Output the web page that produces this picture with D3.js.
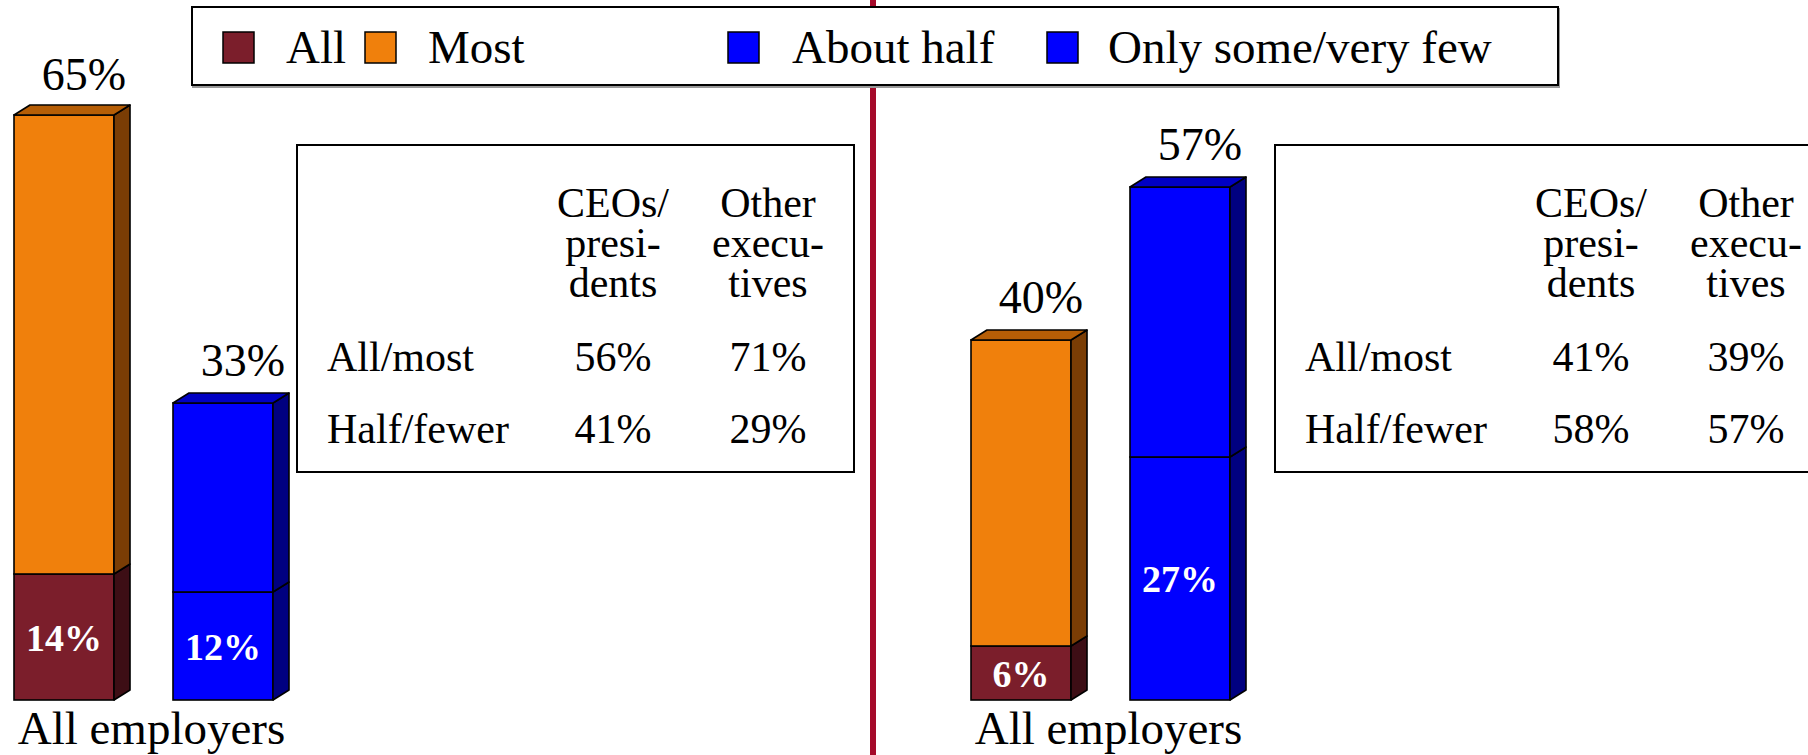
<!DOCTYPE html>
<html>
<head>
<meta charset="utf-8">
<script src="https://cdn.jsdelivr.net/npm/d3@7"></script>
<style>
  body { margin: 0; background: #fff; }
  svg { display: block; }
  text { font-family: "Liberation Serif", "Times New Roman", serif; }
</style>
</head>
<body>
<div id="chart"></div>
<script>
// legend / series
const seriesNames = ["All", "Most", "About half", "Only some/very few"];
const barKeys = ["allMost", "halfFewer"];
const categoryLabel = "All employers";

// left panel: bottom segment (All / About half), top segment (Most / Only some)
const leftBottom = [14, 12];
const leftTop = [51, 21];
// right panel
const rightBottom = [6, 27];
const rightTop = [34, 30];

// small tables
const tableRows = ["All/most", "Half/fewer"];
const tableCols = [["CEOs/", "presi-", "dents"], ["Other", "execu-", "tives"]];
const leftTable = [[56, 71], [41, 29]];
const rightTable = [[41, 39], [58, 57]];

// styles
const front = ["#7b1e2b", "#f0800c", "#0000ff", "#0000ff"];
const side = ["#3d0e15", "#7a3d05", "#000080", "#000080"];
const topFace = ["#5a1520", "#b65e06", "#0000c4", "#0000c4"];

const width = 1808;
const height = 755;
const depthX = 16, depthY = 10;

const svg = d3.select("#chart")
    .append("svg")
    .attr("width", width)
    .attr("height", height);

const y = d3.scaleLinear()
    .domain([0, 65])
    .range([700, 115]);

// divider line
svg.append("rect")
    .attr("x", 870).attr("y", 0)
    .attr("width", 6).attr("height", height)
    .attr("fill", "#a50a2a");

function drawPanel(bottomVals, topVals, xRange, tableX, tableVals) {
    const x = d3.scaleBand()
        .domain(barKeys)
        .range(xRange)
        .paddingInner(0.371)
        .paddingOuter(0);
    const bw = x.bandwidth();
    const g = svg.append("g");

    barKeys.forEach((k, i) => {
        const x0 = x(k);
        const segs = [
            { s: i * 2, lo: 0, hi: bottomVals[i] },
            { s: i * 2 + 1, lo: bottomVals[i], hi: bottomVals[i] + topVals[i] }
        ];
        segs.forEach((d, j) => {
            const yb = y(d.lo), yt = y(d.hi);
            g.append("rect")
                .attr("x", x0).attr("y", yt)
                .attr("width", bw).attr("height", yb - yt)
                .attr("fill", front[d.s])
                .attr("stroke", "#000").attr("stroke-width", 1.6);
            g.append("path")
                .attr("d", `M${x0 + bw},${yb}L${x0 + bw + depthX},${yb - depthY}L${x0 + bw + depthX},${yt - depthY}L${x0 + bw},${yt}Z`)
                .attr("fill", side[d.s])
                .attr("stroke", "#000").attr("stroke-width", 1.6)
                .attr("stroke-linejoin", "round");
            if (j === 1) {
                g.append("path")
                    .attr("d", `M${x0},${yt}L${x0 + depthX},${yt - depthY}L${x0 + bw + depthX},${yt - depthY}L${x0 + bw},${yt}Z`)
                    .attr("fill", topFace[d.s])
                    .attr("stroke", "#000").attr("stroke-width", 1.6)
                    .attr("stroke-linejoin", "round");
            }
        });

        // inner label for bottom segment
        g.append("text")
            .attr("x", x0 + bw / 2)
            .attr("y", (y(0) + y(bottomVals[i])) / 2)
            .attr("dy", "0.36em")
            .attr("text-anchor", "middle")
            .attr("fill", "#fff")
            .attr("font-weight", "bold")
            .attr("font-size", 38)
            .text(bottomVals[i] + "%");

        // total label
        const total = bottomVals[i] + topVals[i];
        g.append("text")
            .attr("x", x0 + bw / 2 + 20)
            .attr("y", Math.max(y(total) - 27, 90))
            .attr("text-anchor", "middle")
            .attr("font-size", 46)
            .text(total + "%");
    });

    g.append("text")
        .attr("x", (xRange[0] + xRange[1] + depthX) / 2)
        .attr("y", 744)
        .attr("text-anchor", "middle")
        .attr("font-size", 47)
        .text(categoryLabel);

    // table box
    const t = svg.append("g").attr("transform", `translate(${tableX},145)`);
    t.append("rect")
        .attr("width", 557).attr("height", 327)
        .attr("fill", "#fff")
        .attr("stroke", "#000").attr("stroke-width", 2);
    const colX = [316, 471];
    tableCols.forEach((lines, c) => {
        lines.forEach((ln, l) => {
            t.append("text")
                .attr("x", colX[c]).attr("y", 72 + l * 40)
                .attr("text-anchor", "middle")
                .attr("font-size", 42)
                .text(ln);
        });
    });
    tableRows.forEach((r, ri) => {
        const ry = 226 + ri * 72;
        t.append("text")
            .attr("x", 30).attr("y", ry)
            .attr("font-size", 42)
            .text(r);
        tableVals[ri].forEach((v, c) => {
            t.append("text")
                .attr("x", colX[c]).attr("y", ry)
                .attr("text-anchor", "middle")
                .attr("font-size", 42)
                .text(v + "%");
        });
    });
}

drawPanel(leftBottom, leftTop, [14, 273], 297, leftTable);
drawPanel(rightBottom, rightTop, [971, 1230], 1275, rightTable);

// legend
const legend = svg.append("g");
legend.append("rect")
    .attr("x", 193).attr("y", 9)
    .attr("width", 1366).attr("height", 78)
    .attr("fill", "none")
    .attr("stroke", "#999").attr("stroke-width", 2);
legend.append("rect")
    .attr("x", 192).attr("y", 7)
    .attr("width", 1366).attr("height", 78)
    .attr("fill", "#fff")
    .attr("stroke", "#000").attr("stroke-width", 2);
const legendSq = [223, 365, 728, 1047];
const legendTx = [286, 428, 792, 1108];
seriesNames.forEach((name, i) => {
    legend.append("rect")
        .attr("x", legendSq[i]).attr("y", 32)
        .attr("width", 31).attr("height", 31)
        .attr("fill", front[i])
        .attr("stroke", "#000").attr("stroke-width", 1.5);
    legend.append("text")
        .attr("x", legendTx[i]).attr("y", 63)
        .attr("font-size", 47)
        .text(name);
});
</script>
</body>
</html>
